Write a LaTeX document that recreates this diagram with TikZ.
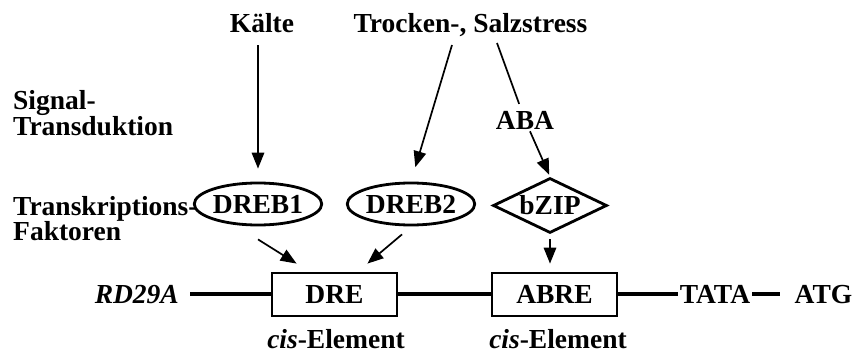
\documentclass[tikz,border=0pt]{standalone}
\usepackage{fontspec}
\setmainfont{Liberation Serif}
\usetikzlibrary{shapes.geometric,arrows.meta,calc}

\begin{document}
\begin{tikzpicture}[x=1pt,y=-1pt,
  every node/.style={font=\fontsize{27.5}{26}\selectfont\bfseries},
  lbl/.style={inner sep=2pt},
  tf/.style={draw,ellipse,line width=2.8pt,inner sep=0pt,minimum width=110pt,minimum height=42pt},
  tfzip/.style={draw,diamond,aspect=2,line width=2.8pt,inner sep=0pt,minimum width=114pt,minimum height=55pt},
  elem/.style={draw,rectangle,line width=2.8pt,inner sep=0pt,minimum width=125pt,minimum height=43pt},
  arr/.style={line width=1.7pt,-{Triangle[length=16pt,width=12.5pt]}},
  plain/.style={line width=1.7pt},
  dna/.style={line width=4.2pt}]
\useasboundingbox (0,0) rectangle (855,356);

% stimuli
\node[lbl,anchor=base] (kaelte) at (262,32) {Kälte};
\node[lbl,anchor=base] (stress) at (470.5,32) {Trocken-, Salzstress};
\node[lbl,anchor=base] (aba) at (525,129) {ABA};

% row labels
\node[lbl,anchor=base west,inner sep=0pt] (sig1) at (13,109) {Signal-};
\node[lbl,anchor=base west,inner sep=0pt] (sig2) at (13,135) {Transduktion};
\node[lbl,anchor=base west,inner sep=0pt] (tfl1) at (13,215) {Transkriptions-};
\node[lbl,anchor=base west,inner sep=0pt] (tfl2) at (13,240) {Faktoren};

% transcription factors
\node[tf] (dreb1) at (258,204) {DREB1};
\node[tf] (dreb2) at (411,204) {DREB2};
\node[tfzip] (bzip) at (550,205.5) {bZIP};

% promoter elements
\node[elem] (dre) at (334.5,294.5) {DRE};
\node[elem] (abre) at (554.5,294.5) {ABRE};
\node[lbl,anchor=base east] (gene) at (181,303) {\itshape RD29A};
\node[lbl,anchor=base] (tata) at (715,303) {TATA};
\node[lbl,anchor=base] (atg) at (823.5,303) {ATG};
\node[lbl,anchor=base] (cis1) at (336,348) {\itshape cis\upshape-Element};
\node[lbl,anchor=base] (cis2) at (558,348) {\itshape cis\upshape-Element};

% promoter line
\coordinate (dnastart) at (190,294);
\coordinate (dnaend) at (780,294);
\draw[dna] (dnastart) -- (dnastart -| dre.west);
\draw[dna] (dre.east |- dnastart) -- (abre.west |- dnastart);
\draw[dna] (abre.east |- dnastart) -- (tata.west |- dnastart);
\draw[dna] (tata.east |- dnastart) -- (dnaend);

% signalling
\coordinate (k1) at (258,45);
\coordinate (s1) at (452,45);
\coordinate (s2) at (497,43);
\draw[arr,shorten >=13pt] (k1) -- (dreb1.north);
\draw[arr,shorten >=15pt] (s1) -- (dreb2.north);
\draw[plain,shorten >=5pt] (s2) -- (aba);
\draw[arr,shorten >=2pt] (aba) -- (bzip.north);

% binding to elements
\draw[arr] ($(dreb1.south)+(0,13)$) -- ($(dre.north west)+(26,-8)$);
\draw[arr] ($(dreb2.south)+(-9,8)$) -- ($(dre.north east)+(-31,-8)$);
\draw[arr,shorten <=5pt,shorten >=8pt] (bzip.south) -- (bzip.south |- abre.north);
\end{tikzpicture}
\end{document}
